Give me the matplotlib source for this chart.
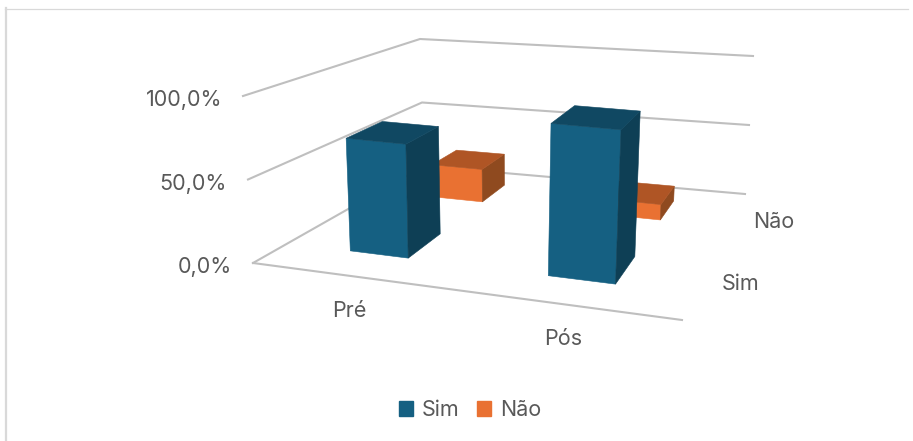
import matplotlib
matplotlib.use("Agg")
import matplotlib.pyplot as plt
from matplotlib.patches import Patch, Polygon

plt.rcParams["font.family"] = ["Inter", "DejaVu Sans"]

# survey shares in percent
periods = ["Pré", "Pós"]
series_names = ["Sim", "Não"]
sim_values = [70.0, 91.0]
nao_values = [23.0, 10.5]
z_ticks = [0, 50, 100]
z_tick_labels = ["0,0%", "50,0%", "100,0%"]

TEXT = "#595959"
GRID = "#BFBFBF"
FACES = {
    "Sim": ("#156082", "#104862", "#0E3F55"),
    "Não": ("#E97132", "#AF5525", "#8F4A1F"),
}
FONT = 15.5

# floor and ceiling corners of the 3d box, in pixels
FL0, FR0, BL0, BR0 = (253, 263), (682, 320), (424, 166), (745, 194)
FL1, FR1, BL1, BR1 = (243, 96), (692, 139), (420, 39), (753, 56)

HALF_W = 0.077
HALF_D = 0.098


def mix(a, b, t):
    return (a[0] + (b[0] - a[0]) * t, a[1] + (b[1] - a[1]) * t)


def project(s, w, value):
    # s along the categories, w into the depth, both 0-1, with perspective
    u = s / (1.16 - 0.16 * s)
    v = 1.444 * w / (1 + 0.444 * w)
    low = mix(mix(FL0, FR0, u), mix(BL0, BR0, u), v)
    high = mix(mix(FL1, FR1, u), mix(BL1, BR1, u), v)
    return mix(low, high, value / 100)


def draw_bar(ax, s, w, value, colors):
    front, top, side = colors
    s0, s1 = s - HALF_W, s + HALF_W
    w0, w1 = w - HALF_D, w + HALF_D
    quads = [
        ([(s0, w0, 0), (s1, w0, 0), (s1, w0, value), (s0, w0, value)], front),
        ([(s1, w0, 0), (s1, w1, 0), (s1, w1, value), (s1, w0, value)], side),
        ([(s0, w0, value), (s1, w0, value), (s1, w1, value), (s0, w1, value)], top),
    ]
    for corners, color in quads:
        pts = [project(*c) for c in corners]
        ax.add_patch(Polygon(pts, closed=True, fc=color, ec=color, lw=0.4, zorder=3))


fig = plt.figure(figsize=(9.13, 4.41), dpi=100)
ax = fig.add_axes([0, 0, 1, 1])
ax.set_xlim(0, 913)
ax.set_ylim(441, 0)
ax.axis("off")

# chart frame
ax.plot([5.5, 5.5], [441, 8], color="#D9D9D9", lw=1.6, zorder=1)
ax.plot([5, 908], [8.5, 8.5], color="#D9D9D9", lw=0.9, zorder=1)

# gridlines on the side and back walls
for z, label in zip(z_ticks, z_tick_labels):
    pts = [project(0, 0, z), project(0, 1, z), project(1, 1, z)]
    ax.plot([p[0] for p in pts], [p[1] for p in pts], color=GRID, lw=1.5, zorder=2,
            solid_joinstyle="miter")
    x0, y0 = pts[0]
    ax.text(x0 - 21, y0 + 4, label, ha="right", va="center", fontsize=FONT, color=TEXT)

# front edge of the floor
a, b = project(0, 0, 0), project(1, 0, 0)
ax.plot([a[0], b[0]], [a[1], b[1]], color=GRID, lw=1.5, zorder=2)

# back row first so the front row covers it
for name, values, w in [("Não", nao_values, 0.76), ("Sim", sim_values, 0.25)]:
    for i, value in enumerate(values):
        draw_bar(ax, 0.25 + 0.5 * i, w, value, FACES[name])

ax.text(349, 311, periods[0], ha="center", va="center", fontsize=FONT, color=TEXT)
ax.text(563, 339, periods[1], ha="center", va="center", fontsize=FONT, color=TEXT)
ax.text(741, 284, series_names[0], ha="center", va="center", fontsize=FONT, color=TEXT)
ax.text(774, 222, series_names[1], ha="center", va="center", fontsize=FONT, color=TEXT)

handles = [Patch(color=FACES[n][0], label=n) for n in series_names]
ax.legend(handles=handles, loc="center", bbox_to_anchor=(470, 410),
          bbox_transform=ax.transData, ncol=2, frameon=False, fontsize=FONT,
          labelcolor=TEXT, handlelength=0.65, handleheight=0.65, handletextpad=0.4,
          columnspacing=0.85, borderpad=0)

fig.savefig("out.png", dpi=100)
